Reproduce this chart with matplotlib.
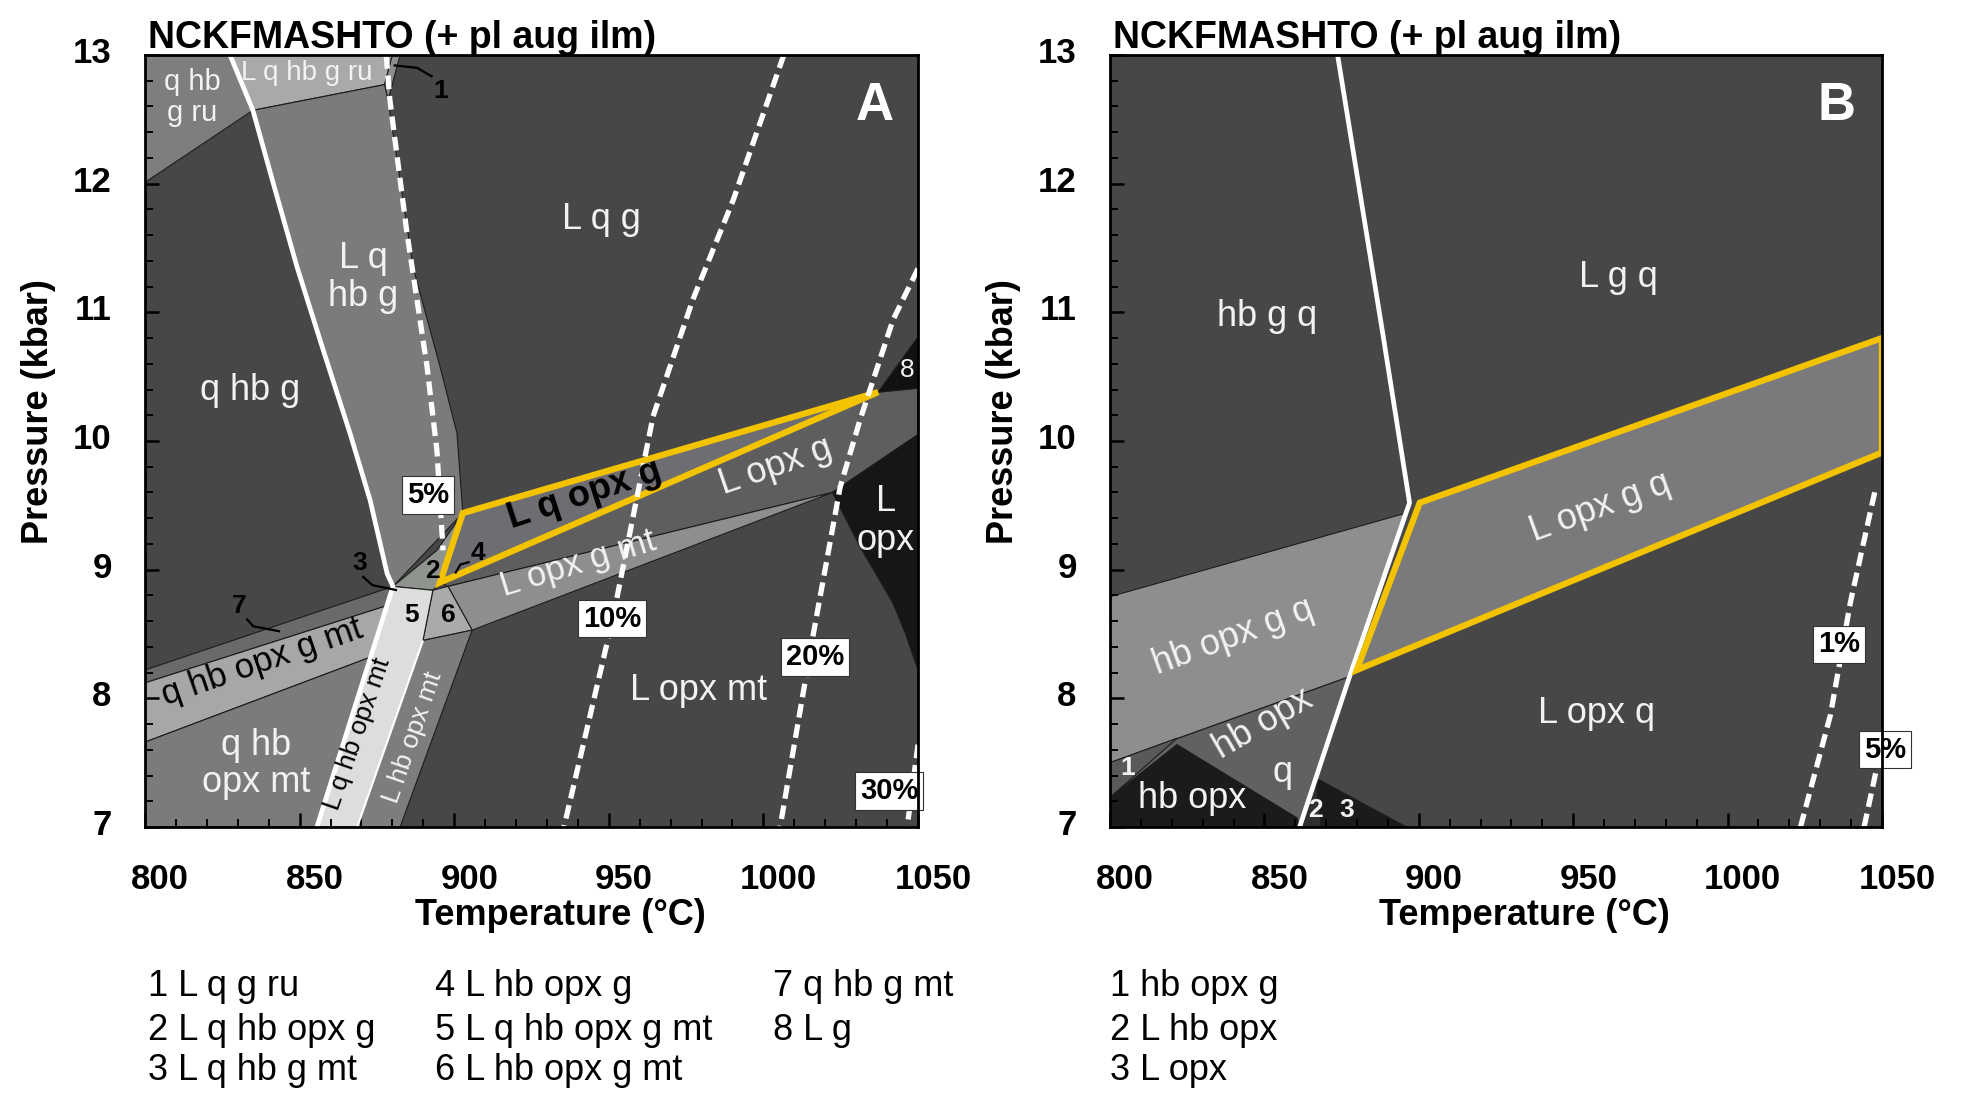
import matplotlib
import matplotlib.pyplot as plt
from matplotlib.patches import Polygon
from matplotlib.ticker import MultipleLocator
from matplotlib.transforms import ScaledTranslation

matplotlib.use("Agg")

plt.rcParams["font.family"] = ["Liberation Sans", "DejaVu Sans"]

# axes ranges: temperature (°C), pressure (kbar)
t_ticks = [800, 850, 900, 950, 1000, 1050]
p_ticks = [7, 8, 9, 10, 11, 12, 13]
title = "NCKFMASHTO (+ pl aug ilm)"

# ---- panel A: field outlines as (T, P) ----
a_q_hb_g_ru = [(800, 13.0), (827.5, 13.0), (834.9, 12.57), (800, 12.01)]
a_l_q_hb_g_ru = [(827.5, 13.0), (880.0, 13.0), (877.5, 12.77), (834.9, 12.57)]
a_l_q_g_ru = [(880.0, 13.0), (882.5, 13.0), (878.6, 12.65), (877.5, 12.77)]
a_solidus = [(827.5, 13.0), (834.9, 12.57), (841.4, 12.01), (849.2, 11.35),
             (857.6, 10.71), (866.3, 10.06), (872.8, 9.54), (878.3, 8.97),
             (880.2, 8.87), (855.6, 7.0)]
a_lqhbg_right = [(877.5, 12.77), (878.6, 12.65), (886.7, 11.35), (895.4, 10.58),
                 (900.9, 10.06), (902.8, 9.44)]
a_invariant = [(880.2, 8.87), (894.4, 9.15), (902.8, 9.44), (895.4, 8.90), (893.1, 8.84)]
a_l_q_opx_g = [(902.8, 9.44), (1037.1, 10.38), (895.4, 8.90)]
a_l_opx_g = [(895.4, 8.90), (1037.1, 10.38), (1050, 10.41), (1050, 10.05),
             (1022.3, 9.60), (898.0, 8.87)]
a_l_g = [(1037.1, 10.38), (1050, 10.81), (1050, 10.41)]
a_l_opx = [(1022.3, 9.60), (1050, 10.05), (1050, 8.22), (1046.0, 8.50),
           (1041.9, 8.74), (1031.2, 9.18)]
a_l_opx_g_mt = [(898.0, 8.87), (1022.3, 9.60), (905.8, 8.53)]
a_l_hb_opx_g_mt = [(893.1, 8.84), (898.0, 8.87), (905.8, 8.53), (889.9, 8.45)]
a_l_hb_opx_mt = [(889.9, 8.45), (905.8, 8.53), (882.5, 7.0), (868.6, 7.0)]
a_l_q_hb_opx_mt = [(880.2, 8.87), (893.1, 8.84), (889.9, 8.45), (868.6, 7.0), (855.6, 7.0)]
a_q_hb_g_mt = [(800, 8.22), (880.2, 8.87), (878.2, 8.72), (800, 8.12)]
a_q_hb_opx_g_mt = [(800, 8.12), (878.2, 8.72), (872.9, 8.32), (800, 7.66)]
a_q_hb_opx_mt = [(800, 7.66), (872.9, 8.32), (855.6, 7.0), (800, 7.0)]

# melt isopleths, panel A
a_melt5 = [(878.0, 13.0), (879.2, 12.65), (884.7, 11.62), (891.2, 10.58),
           (894.4, 9.93), (896.4, 9.15)]
a_melt10 = [(1006.6, 13.0), (990.2, 11.87), (977.2, 11.10), (964.3, 10.19),
            (951.3, 8.62), (935.5, 7.0)]
a_melt20 = [(1050, 11.34), (1041.9, 10.94), (1031.2, 10.16), (1024.8, 9.64),
            (1016.0, 8.48), (1005.4, 7.0)]
a_melt30 = [(1050, 7.64), (1046.5, 7.0)]
a_melt_text = ["5%", "10%", "20%", "30%"]
a_melt_T = [891.5, 951.1, 1016.7, 1040.7]
a_melt_P = [9.58, 8.62, 8.32, 7.28]

# ---- panel B ----
b_solidus = [(873.7, 13.0), (888.3, 10.84), (897.0, 9.52), (877.6, 8.17), (861.4, 7.0)]
b_hb_opx_g_q = [(800, 8.79), (895.9, 9.44), (877.6, 8.17), (800, 7.50)]
b_hb_opx_q = [(800, 7.50), (877.6, 8.17), (861.4, 7.0), (800, 7.0)]
b_hb_opx_g = [(800, 7.23), (800, 7.50), (821.7, 7.69)]
b_hb_opx = [(800, 7.0), (800, 7.23), (821.7, 7.64), (860.6, 7.07), (861.4, 7.0)]
b_l_hb_opx = [(866.7, 7.38), (868.5, 7.0), (861.4, 7.0)]
b_l_opx = [(866.7, 7.38), (896.0, 7.0), (868.5, 7.0)]
b_l_opx_g_q = [(900.3, 9.52), (1050, 10.80), (1050, 9.91), (879.9, 8.22)]
b_melt1 = [(1023.6, 7.0), (1033.3, 7.87), (1039.8, 8.75), (1047.9, 9.63)]
b_melt5 = [(1044.2, 7.0), (1048.3, 7.46)]
b_melt_text = ["1%", "5%"]
b_melt_T = [1036.1, 1051.0]
b_melt_P = [8.42, 7.60]

# numbered small fields
a_key = ["1 L q g ru", "2 L q hb opx g", "3 L q hb g mt", "4 L hb opx g",
         "5 L q hb opx g mt", "6 L hb opx g mt", "7 q hb g mt", "8 L g"]
b_key = ["1 hb opx g", "2 L hb opx", "3 L opx"]

DARK = "#474747"
YELLOW = "#f3c300"
WHITE = "#f2f2f2"


def field(ax, pts, color, z=1):
    ax.add_patch(Polygon(pts, closed=True, facecolor=color, edgecolor="#1c1c1c",
                         lw=0.8, zorder=z))


def line(ax, pts, **kw):
    ax.plot([p[0] for p in pts], [p[1] for p in pts], solid_capstyle="butt", **kw)


def isopleth(ax, pts):
    line(ax, pts, color="white", lw=3.8, dashes=(2.6, 1.3), zorder=5)


def boxed(ax, t, p, s):
    ax.text(t, p, s, ha="center", va="center", fontsize=21, fontweight="bold",
            color="black", zorder=8, clip_on=False,
            bbox=dict(boxstyle="square,pad=0.16", fc="white", ec="#333333", lw=0.8))


def label(ax, t, p, s, color=WHITE, size=26, rot=0, weight="normal", ls=1.0):
    ax.text(t, p, s, ha="center", va="center", fontsize=size, color=color,
            rotation=rot, fontweight=weight, linespacing=ls, zorder=7)


def pointer(ax, pts):
    line(ax, pts, color="black", lw=1.6, zorder=7)


def frame(ax, fig):
    ax.set_xlim(800, 1050)
    ax.set_ylim(7, 13)
    ax.set_facecolor(DARK)
    ax.set_xticks(t_ticks)
    ax.set_yticks(p_ticks)
    ax.xaxis.set_minor_locator(MultipleLocator(10))
    ax.yaxis.set_minor_locator(MultipleLocator(0.2))
    ax.tick_params(which="both", direction="in", top=False, right=False, color="black")
    ax.tick_params(which="major", length=10, width=1.8, labelsize=25)
    ax.tick_params(which="minor", length=6, width=1.4)
    ax.tick_params(axis="x", pad=26)
    ax.tick_params(axis="y", pad=24)
    shift_x = ScaledTranslation(0.15, 0, fig.dpi_scale_trans)
    shift_y = ScaledTranslation(0, 0.05, fig.dpi_scale_trans)
    for lab in ax.get_xticklabels():
        lab.set_fontweight("bold")
        lab.set_transform(lab.get_transform() + shift_x)
    for lab in ax.get_yticklabels():
        lab.set_fontweight("bold")
        lab.set_transform(lab.get_transform() + shift_y)
    for sp in ax.spines.values():
        sp.set_linewidth(2.0)
        sp.set_color("black")
        sp.set_zorder(10)
    ax.set_xlabel("Temperature (°C)", fontsize=26, fontweight="bold")
    ax.set_ylabel("Pressure (kbar)", fontsize=26, fontweight="bold")
    ax.xaxis.set_label_coords(0.537, -0.092)
    ax.yaxis.set_label_coords(-0.115, 0.538)
    ax.text(0.004, 1.009, title, transform=ax.transAxes, ha="left", va="baseline",
            fontsize=27, fontweight="bold", color="black")


fig = plt.figure(figsize=(19.65, 11.03), dpi=100)
W, H = 1965, 1103
ax_a = fig.add_axes([145 / W, 1 - 827 / H, 773 / W, 772 / H])
ax_b = fig.add_axes([1110 / W, 1 - 827 / H, 772 / W, 772 / H])

# ---------------- panel A ----------------
ax = ax_a
frame(ax, fig)
field(ax, a_q_hb_g_ru, "#7e7e7e")
field(ax, a_l_q_hb_g_ru, "#a9a9a9")
field(ax, a_l_q_g_ru, "#8c8c8c")
field(ax, a_solidus[1:9] + a_lqhbg_right[::-1], "#7b7b7b")
field(ax, a_invariant, "#8f948f")
field(ax, a_l_opx_g, "#5e5e5e")
field(ax, a_l_g, "#111111")
field(ax, a_l_opx, "#161616")
field(ax, a_l_opx_g_mt, "#8e8e8e")
field(ax, a_l_hb_opx_g_mt, "#aaaaaa")
field(ax, a_l_hb_opx_mt, "#7d7d7d")
field(ax, a_l_q_hb_opx_mt, "#dddddd")
field(ax, a_q_hb_g_mt, "#6a6a6a")
field(ax, a_q_hb_opx_g_mt, "#a7a7a7")
field(ax, a_q_hb_opx_mt, "#7b7b7b")
ax.add_patch(Polygon(a_l_q_opx_g, closed=True, facecolor="#6d6d72", edgecolor=YELLOW,
                     lw=4.5, joinstyle="miter", zorder=4))

line(ax, a_solidus, color="white", lw=3.4, zorder=3)
line(ax, [a_l_hb_opx_mt[0], a_l_hb_opx_mt[3]], color="white", lw=1.6, zorder=3)
for iso in (a_melt5, a_melt10, a_melt20, a_melt30):
    isopleth(ax, iso)
for s, t, p in zip(a_melt_text, a_melt_T, a_melt_P):
    boxed(ax, t, p, s)

label(ax, 815.2, 12.67, "q hb\ng ru", size=21, ls=1.15)
label(ax, 852.4, 12.86, "L q hb g ru", size=20)
label(ax, 947.5, 11.72, "L q g")
label(ax, 870.5, 11.27, "L q\nhb g", ls=1.1)
label(ax, 834.0, 10.39, "q hb g")
label(ax, 942.0, 9.58, "L q opx g", color="black", weight="bold", rot=18)
label(ax, 1004.0, 9.80, "L opx g", rot=19)
label(ax, 940.0, 9.05, "L opx g mt", rot=17, size=25)
label(ax, 1039.6, 9.38, "L\nopx", ls=1.15)
label(ax, 979.0, 8.06, "L opx mt")
label(ax, 838.0, 8.28, "q hb opx g mt", color="black", rot=19, size=25)
label(ax, 836.0, 7.49, "q hb\nopx mt", ls=1.1)
label(ax, 868.6, 7.72, "L q hb opx mt", color="black", rot=71, size=19)
label(ax, 886.8, 7.70, "L hb opx mt", rot=71, size=19)
label(ax, 1036.0, 12.6, "A", size=38, weight="bold", color="white")
label(ax, 1046.4, 10.55, "8", size=19)
for s, t, p in [("1", 895.6, 12.72), ("3", 869.5, 9.05), ("2", 892.8, 8.99),
                ("4", 907.6, 9.13), ("5", 886.3, 8.65), ("6", 898.0, 8.65),
                ("7", 830.5, 8.72)]:
    label(ax, t, p, s, color="black", size=19, weight="bold")
pointer(ax, [(880.4, 12.92), (888.0, 12.90), (893.0, 12.83)])
pointer(ax, [(870.3, 8.95), (873.5, 8.88), (881.5, 8.84)])
pointer(ax, [(832.8, 8.62), (835.0, 8.56), (843.7, 8.52)])
pointer(ax, [(905.0, 9.06), (902.0, 9.04), (900.3, 8.97)])

# ---------------- panel B ----------------
ax = ax_b
frame(ax, fig)
field(ax, b_hb_opx_q, "#616161")
field(ax, b_hb_opx_g_q, "#8e8e8e")
field(ax, b_hb_opx_g, "#595959")
field(ax, b_hb_opx, "#1b1b1b")
field(ax, b_l_hb_opx, "#2f2f2f")
field(ax, b_l_opx, "#1b1b1b")
line(ax, b_solidus, color="white", lw=3.4, zorder=3)
ax.add_patch(Polygon(b_l_opx_g_q, closed=True, facecolor="#7a7a7c", edgecolor=YELLOW,
                     lw=4.5, joinstyle="miter", zorder=4))
for iso in (b_melt1, b_melt5):
    isopleth(ax, iso)
for s, t, p in zip(b_melt_text, b_melt_T, b_melt_P):
    boxed(ax, t, p, s)

label(ax, 1035.4, 12.6, "B", size=38, weight="bold", color="white")
label(ax, 964.5, 11.27, "L g q")
label(ax, 851.0, 10.97, "hb g q")
label(ax, 958.8, 9.48, "L opx g q", rot=20)
label(ax, 840.0, 8.48, "hb opx g q", rot=20)
label(ax, 849.5, 7.80, "hb opx", rot=30)
label(ax, 856.0, 7.42, "q")
label(ax, 826.7, 7.22, "hb opx")
label(ax, 957.6, 7.88, "L opx q")
label(ax, 805.7, 7.46, "1", size=19, weight="bold")
label(ax, 866.4, 7.13, "2", size=19, weight="bold")
label(ax, 876.6, 7.13, "3", size=19, weight="bold")

# numbered-field keys under the panels
key_x = [148, 435, 773]
key_y = [987, 1030, 1071]
for i, s in enumerate(a_key):
    fig.text(key_x[i // 3] / W, 1 - key_y[i % 3] / H, s, fontsize=26, va="center")
for i, s in enumerate(b_key):
    fig.text(1110 / W, 1 - key_y[i] / H, s, fontsize=26, va="center")

fig.savefig("out.png", dpi=100)
plt.close(fig)
